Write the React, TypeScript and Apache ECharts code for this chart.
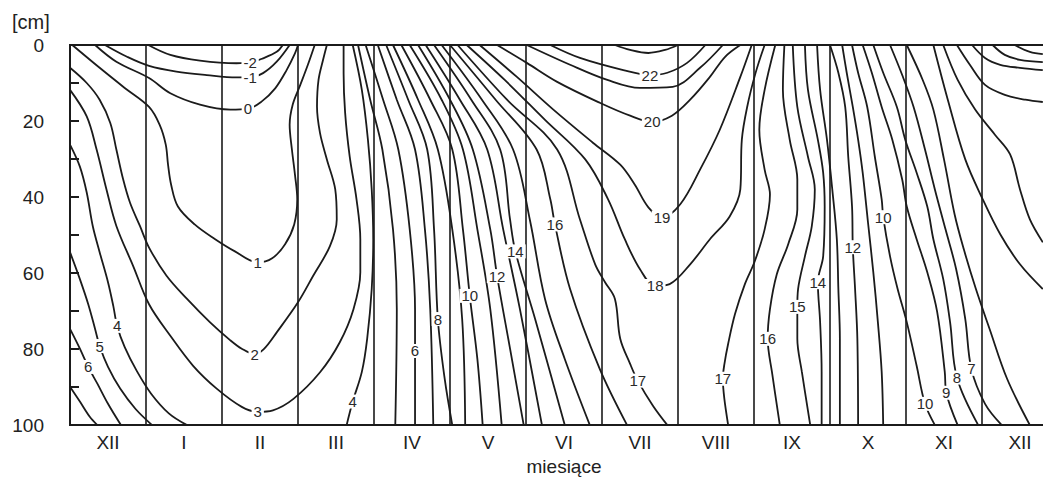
import React, { useEffect, useRef } from 'react';
import * as echarts from 'echarts';

const FONT = "'Liberation Sans', Arial, Helvetica, sans-serif";
const INK = '#1b1b1b';

// x axis: months, 0 = beginning of December (XII), one unit = one month
const MONTHS = ['XII', 'I', 'II', 'III', 'IV', 'V', 'VI', 'VII', 'VIII', 'IX', 'X', 'XI', 'XII'];
const MONTH_SPAN = 13;
// y axis: depth in cm
const DEPTH_MIN = 0;
const DEPTH_MAX = 100;
const DEPTH_TICK = 10;
const DEPTH_LABEL_STEP = 20;

// isotherms [month position, depth cm]
const isoM2 = [[1.03, 0], [1.32, 2.6], [1.71, 4.1], [2.19, 4.8], [2.37, 4.6], [2.54, 3.5], [2.72, 1.8], [2.8, 0]];
const isoM1 = [[0.46, 0], [0.75, 3.1], [1.04, 5.5], [1.4, 7.0], [1.8, 7.9], [2.19, 8.5], [2.37, 8.5], [2.54, 7.4], [2.72, 4.4], [2.89, 0]];
const iso0 = [[0.33, 0], [0.61, 4.4], [1.04, 8.7], [1.32, 12.7], [1.71, 15.7], [2.11, 17], [2.34, 16.8], [2.52, 14.9], [2.7, 11.4], [2.85, 6.6], [2.96, 2.2], [3.0, 0]];
const iso1 = [[0.03, 0], [0.39, 6], [0.72, 11.3], [1.04, 16.3], [1.18, 21], [1.26, 26.2], [1.29, 31.5], [1.33, 36.7], [1.42, 42.5], [1.64, 47.2], [1.91, 51.1], [2.17, 54.3], [2.47, 57.2], [2.66, 56.1], [2.83, 52.4], [2.95, 47.2], [2.99, 40.6], [2.96, 34.1], [2.92, 27.5], [2.89, 21], [2.93, 15.7], [3.03, 10.5], [3.13, 5.2], [3.22, 0]];
const iso2 = [[0, 6], [0.22, 10], [0.39, 14.4], [0.53, 20.5], [0.61, 27.5], [0.7, 35.4], [0.79, 41.5], [0.92, 47.6], [1.04, 53.3], [1.27, 60.7], [1.54, 66.8], [1.84, 72.9], [2.11, 77.7], [2.26, 79.9], [2.43, 81.3], [2.55, 80], [2.72, 75.6], [3.0, 67.7], [3.2, 60.7], [3.42, 52.9], [3.51, 45.9], [3.49, 38], [3.38, 30.1], [3.29, 23.2], [3.25, 16.2], [3.27, 9.2], [3.33, 3.9], [3.38, 0]];
const iso3 = [[0, 11.8], [0.22, 18.8], [0.35, 27.5], [0.48, 38], [0.61, 47.6], [0.83, 58.1], [1.04, 68.2], [1.32, 76.5], [1.62, 84.4], [1.93, 90.4], [2.26, 95.2], [2.47, 96.5], [2.67, 96.1], [2.94, 93.1], [3.29, 86.1], [3.55, 78.2], [3.73, 69.5], [3.82, 59.8], [3.82, 51.1], [3.77, 40.6], [3.68, 29.3], [3.62, 17.8], [3.6, 7.4], [3.6, 0]];
const iso4a = [[0, 26.2], [0.13, 32], [0.22, 38.8], [0.3, 47.7], [0.39, 54.5], [0.5, 62.4], [0.57, 68.7], [0.62, 73.9], [0.72, 79.5], [0.88, 85.8], [1.07, 91.8], [1.3, 96.9], [1.54, 100]];
const iso5a = [[0, 54.5], [0.13, 61.6], [0.24, 68.2], [0.33, 74.7], [0.39, 79.2], [0.5, 84.7], [0.66, 90.4], [0.86, 95.7], [1.08, 100]];
const iso6a = [[0, 74.7], [0.13, 79.9], [0.24, 84.7], [0.36, 89.1], [0.5, 94.4], [0.67, 100]];
const iso7a = [[0, 89.9], [0.13, 93.8], [0.26, 97.8], [0.36, 100]];
const iso4b = [[3.72, 0], [3.84, 11.8], [3.92, 24.9], [3.97, 38], [3.99, 51.1], [3.97, 64.2], [3.91, 77.3], [3.84, 86], [3.72, 93.8], [3.64, 100]];
const iso5b = [[3.79, 0], [3.95, 14.4], [4.11, 27.5], [4.25, 48.5], [4.3, 69.5], [4.28, 100]];
const iso6b = [[3.89, 0], [4.12, 14.4], [4.32, 27.5], [4.47, 48.5], [4.54, 69.5], [4.54, 80.5], [4.54, 100]];
const iso7b = [[4.05, 0], [4.3, 14.4], [4.54, 27.5], [4.67, 48.5], [4.74, 69.5], [4.78, 100]];
const iso8b = [[4.16, 0], [4.45, 14.4], [4.7, 27.5], [4.79, 48.5], [4.84, 72.1], [4.93, 87.8], [5.03, 100]];
const iso9b = [[4.25, 0], [4.58, 14.4], [4.84, 27.5], [5.03, 48.5], [5.16, 72.1], [5.2, 100]];
const iso10b = [[4.36, 0], [4.74, 14.4], [5.03, 27.5], [5.17, 48.5], [5.26, 66], [5.36, 82.6], [5.43, 100]];
const iso11b = [[4.47, 0], [4.89, 14.4], [5.17, 27.5], [5.36, 48.5], [5.53, 69.5], [5.68, 100]];
const iso12b = [[4.58, 0], [5.0, 14.4], [5.3, 27.5], [5.53, 48.5], [5.62, 60.8], [5.79, 79.9], [5.97, 100]];
const iso13b = [[4.68, 0], [5.13, 14.4], [5.49, 27.5], [5.7, 48.5], [5.92, 69.5], [6.21, 100]];
const iso14b = [[4.79, 0], [5.28, 14.4], [5.66, 27.5], [5.79, 45.9], [5.86, 54.3], [6.12, 72.1], [6.51, 100]];
const iso15b = [[4.89, 0], [5.42, 14.4], [5.83, 27.5], [6.05, 45.9], [6.25, 66.8], [6.51, 82.6], [6.84, 100]];
const iso16b = [[5.0, 0], [5.6, 14.4], [6.14, 27.5], [6.32, 40.6], [6.38, 47.2], [6.58, 64.2], [6.97, 85.2], [7.33, 100]];
const iso17a = [[5.1, 0], [5.75, 14.4], [6.41, 27.5], [6.71, 45.9], [6.91, 57.7], [7.04, 62.4], [7.17, 66.8], [7.24, 77.3], [7.37, 83.9], [7.47, 88.3], [7.67, 94.9], [7.86, 100]];
const iso18 = [[5.22, 0], [5.72, 9.2], [6.25, 19.7], [6.78, 30.1], [7.08, 40.6], [7.3, 51.1], [7.5, 59], [7.7, 63.4], [7.89, 62.9], [8.16, 57.7], [8.42, 51.1], [8.68, 45.1], [8.82, 38], [8.84, 24.9], [8.91, 16.3], [9.02, 7.4], [9.14, 0]];
const iso19 = [[5.39, 0], [5.88, 8.4], [6.36, 17], [6.88, 25.7], [7.24, 31.5], [7.43, 36.7], [7.61, 42.7], [7.79, 45.4], [8.03, 41.9], [8.29, 32.8], [8.55, 22.3], [8.82, 8.4], [8.97, 0]];
const iso20 = [[5.62, 0], [6.01, 4.7], [6.41, 9.7], [6.97, 15.2], [7.37, 18.6], [7.66, 20.2], [7.92, 18.6], [8.16, 14.4], [8.42, 8.4], [8.62, 3.1], [8.82, 0]];
const iso21 = [[6.01, 0], [6.58, 5.2], [7.07, 9.2], [7.5, 11.3], [7.93, 11.0], [8.29, 6], [8.59, 0]];
const iso22 = [[6.32, 0], [6.71, 3.4], [7.28, 6.6], [7.63, 7.9], [7.86, 7.3], [8.12, 4.7], [8.36, 0]];
const iso23 = [[7.17, 0], [7.37, 1.3], [7.61, 2.1], [7.83, 1.3], [8.0, 0]];
const iso17c = [[9.28, 0], [9.14, 11.8], [9.07, 22.3], [9.14, 32.8], [9.21, 39.3], [9.14, 48.5], [9.01, 56.9], [8.88, 62.9], [8.75, 70.8], [8.66, 78.6], [8.61, 84], [8.59, 87.8], [8.61, 93.1], [8.66, 100]];
const iso16c = [[9.4, 0], [9.38, 11.8], [9.47, 24.9], [9.57, 35.4], [9.57, 43.3], [9.45, 52.4], [9.3, 60.3], [9.21, 69.5], [9.18, 77.3], [9.24, 86.5], [9.34, 100]];
const iso15c = [[9.51, 0], [9.57, 16.3], [9.71, 29.4], [9.8, 38], [9.76, 47.7], [9.67, 55.6], [9.58, 64.2], [9.57, 68.9], [9.57, 77.3], [9.63, 86], [9.74, 100]];
const iso14c = [[9.67, 0], [9.71, 11.8], [9.84, 24.9], [9.91, 33.6], [9.93, 42.5], [9.91, 55.6], [9.84, 62.4], [9.87, 72.9], [9.89, 86], [9.89, 100]];
const iso13c = [[9.83, 0], [9.87, 11.8], [9.96, 24.9], [10.03, 38], [10.09, 51.1], [10.11, 64.2], [10.13, 77.3], [10.13, 100]];
const iso12c = [[10.0, 0], [10.11, 7.3], [10.2, 16.3], [10.24, 29.4], [10.29, 42.5], [10.3, 53.2], [10.33, 64.2], [10.36, 77.3], [10.37, 100]];
const iso11c = [[10.16, 0], [10.22, 7.3], [10.3, 16.3], [10.37, 24.9], [10.43, 33.6], [10.5, 46.7], [10.57, 59.8], [10.63, 72.9], [10.68, 86], [10.7, 100]];
const iso10c = [[10.29, 0], [10.37, 7.3], [10.49, 16.3], [10.59, 29.4], [10.68, 40.6], [10.7, 45.3], [10.79, 55.6], [10.89, 64.2], [11.01, 72.9], [11.14, 84.4], [11.25, 94.4], [11.38, 100]];
const iso9c = [[10.43, 0], [10.55, 7.3], [10.68, 16.3], [10.82, 24.9], [10.95, 35.4], [11.01, 42.5], [11.14, 51.1], [11.28, 59.8], [11.41, 70.2], [11.51, 86], [11.53, 91.5], [11.68, 100]];
const iso8c = [[10.57, 0], [10.7, 7.3], [10.88, 16.3], [10.99, 24.9], [11.14, 33.6], [11.28, 42.5], [11.36, 51.1], [11.49, 61.6], [11.58, 72.9], [11.67, 87.5], [11.95, 100]];
const iso7c = [[10.79, 0], [10.95, 7.9], [11.1, 16.3], [11.25, 27.5], [11.38, 38], [11.52, 48.5], [11.66, 59], [11.78, 72.1], [11.86, 85.2], [12.04, 94.4], [12.26, 100]];
const iso6c = [[11.01, 0], [11.22, 9.2], [11.36, 17], [11.5, 30.1], [11.64, 44.6], [11.76, 53.7], [11.92, 64.2], [12.1, 74.7], [12.33, 87.8], [12.63, 100]];
const iso5c = [[11.36, 0], [11.55, 14.4], [11.78, 30.1], [12.01, 40.6], [12.24, 49.8], [12.5, 57.7], [12.8, 64.2]];
const iso4c = [[11.49, 0], [11.68, 9.2], [11.91, 17], [12.17, 23.6], [12.37, 28.8], [12.5, 38], [12.63, 45.9], [12.8, 51.9]];
const iso3c = [[11.67, 0], [11.84, 5.2], [12.04, 10.5], [12.3, 13.1], [12.57, 14.4], [12.8, 15]];
const iso2c = [[11.87, 0], [12.04, 3.4], [12.24, 5.2], [12.5, 6], [12.8, 6.6]];
const iso1c = [[12.14, 0], [12.3, 2.6], [12.5, 3.9], [12.8, 4.5]];
const iso0c = [[12.43, 0], [12.63, 1.8], [12.8, 2.4]];

const ISOLINES = [
  isoM2, isoM1, iso0, iso1, iso2, iso3, iso4a, iso5a, iso6a, iso7a,
  iso4b, iso5b, iso6b, iso7b, iso8b, iso9b, iso10b, iso11b, iso12b, iso13b, iso14b, iso15b, iso16b,
  iso17a, iso18, iso19, iso20, iso21, iso22, iso23,
  iso17c, iso16c, iso15c, iso14c, iso13c, iso12c, iso11c, iso10c, iso9c, iso8c, iso7c, iso6c,
  iso5c, iso4c, iso3c, iso2c, iso1c, iso0c,
];

// isotherm labels: positions [month, depth] and texts
const LABEL_POS = [
  [2.37, 4.6], [2.37, 8.6], [2.34, 16.8], [2.47, 57.2], [2.43, 81.3], [2.47, 96.5],
  [0.62, 73.9], [0.39, 79.2], [0.24, 84.7], [3.72, 93.8],
  [4.54, 80.5], [4.84, 72.1], [5.26, 66], [5.62, 60.8], [5.86, 54.3], [6.38, 47.2],
  [7.47, 88.3], [7.7, 63.4], [7.79, 45.4], [7.66, 20.2], [7.63, 7.9],
  [8.59, 87.8], [9.18, 77.3], [9.57, 68.9], [9.84, 62.4], [10.3, 53.2], [10.7, 45.3],
  [11.25, 94.4], [11.53, 91.5], [11.67, 87.5], [11.86, 85.2],
];
const LABEL_TEXT = [
  '-2', '-1', '0', '1', '2', '3',
  '4', '5', '6', '4',
  '6', '8', '10', '12', '14', '16',
  '17', '18', '19', '20', '22',
  '17', '16', '15', '14', '12', '10',
  '10', '9', '8', '7',
];

export default function App() {
  const ref = useRef<HTMLDivElement>(null);

  useEffect(() => {
    if (!ref.current) return;
    const chart = echarts.init(ref.current, null, { renderer: 'svg' });

    const lineSeries = ISOLINES.map((data) => ({
      type: 'line',
      xAxisIndex: 0,
      yAxisIndex: 0,
      data,
      symbol: 'none',
      showSymbol: false,
      smooth: 0.35,
      silent: true,
      z: 3,
      lineStyle: { color: INK, width: 1.8 },
    }));

    const labelSeries = {
      type: 'scatter',
      xAxisIndex: 0,
      yAxisIndex: 0,
      symbolSize: 1,
      silent: true,
      z: 10,
      itemStyle: { color: 'rgba(255,255,255,0)' },
      data: LABEL_POS.map((p, i) => ({ value: p, name: LABEL_TEXT[i] })),
      label: {
        show: true,
        position: 'inside',
        formatter: (p: any) => p.name,
        fontFamily: FONT,
        fontSize: 15,
        lineHeight: 14,
        color: '#2a2a2a',
        opacity: 1,
        textBorderWidth: 0,
        backgroundColor: '#fff',
        padding: [0, 2],
      },
    };

    chart.setOption({
      animation: false,
      title: {
        text: '[cm]',
        left: 12,
        top: 12,
        padding: 0,
        textStyle: { fontFamily: FONT, fontSize: 20, fontWeight: 'normal', color: '#222' },
      },
      grid: {
        left: 70,
        right: 0,
        top: 45,
        bottom: 54,
        show: true,
        borderColor: INK,
        borderWidth: 2,
      },
      xAxis: [
        {
          type: 'value',
          min: 0,
          max: MONTH_SPAN,
          interval: 1,
          axisLine: { show: false },
          axisTick: { show: false },
          axisLabel: { show: false },
          splitLine: { show: true, lineStyle: { color: INK, width: 1.6 } },
        },
        {
          type: 'category',
          data: MONTHS,
          boundaryGap: true,
          position: 'bottom',
          offset: 0,
          axisLine: { show: false },
          axisTick: { show: false },
          splitLine: { show: false },
          axisLabel: { fontFamily: FONT, fontSize: 19, color: '#222', margin: 8 },
          name: 'miesiące',
          nameLocation: 'middle',
          nameGap: 31,
          nameTextStyle: { fontFamily: FONT, fontSize: 19, color: '#222' },
        },
      ],
      yAxis: {
        type: 'value',
        inverse: true,
        min: DEPTH_MIN,
        max: DEPTH_MAX,
        interval: DEPTH_TICK,
        offset: 18,
        axisLine: { show: true, lineStyle: { color: INK, width: 2 } },
        axisTick: { show: true, inside: true, length: 9, lineStyle: { color: INK, width: 2 } },
        axisLabel: {
          fontFamily: FONT,
          fontSize: 19,
          color: '#222',
          margin: 8,
          formatter: (v: number) => (v % DEPTH_LABEL_STEP === 0 ? String(v) : ''),
        },
        splitLine: { show: false },
      },
      series: [...lineSeries, labelSeries],
    });

    return () => chart.dispose();
  }, []);

  return (
    <div style={{ position: 'absolute', left: 0, top: 0, width: 1043, height: 481, overflow: 'hidden', background: '#fff' }}>
      <div ref={ref} style={{ width: 1058, height: 481 }} />
    </div>
  );
}
